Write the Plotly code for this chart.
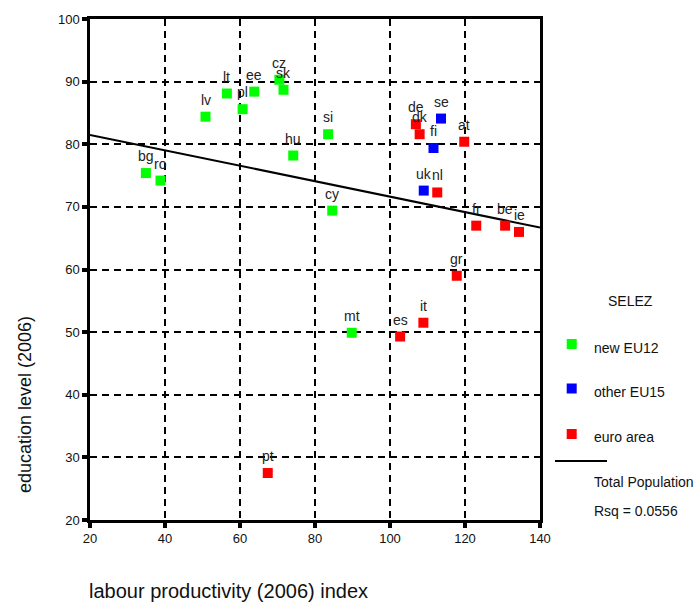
import plotly.graph_objects as go

# ---- data ----
new_eu12_codes = ["bg", "ro", "lv", "lt", "pl", "ee", "cz", "sk", "hu", "si", "cy", "mt"]
new_eu12_x = [34.9, 38.8, 50.8, 56.5, 60.7, 63.8, 70.5, 71.6, 74.2, 83.5, 84.6, 89.8]
new_eu12_y = [75.4, 74.2, 84.4, 88.1, 85.6, 88.4, 90.3, 88.7, 78.2, 81.6, 69.4, 49.9]

other_eu15_codes = ["se", "fi", "uk"]
other_eu15_x = [113.6, 111.6, 109.0]
other_eu15_y = [84.1, 79.4, 72.6]

euro_codes = ["de", "dk", "at", "nl", "fr", "be", "ie", "gr", "es", "it", "pt"]
euro_x = [106.9, 107.9, 119.8, 112.6, 123.0, 130.7, 134.4, 117.8, 102.7, 108.9, 67.4]
euro_y = [83.2, 81.6, 80.4, 72.3, 67.0, 67.0, 66.0, 59.0, 49.3, 51.5, 27.5]

trend_x = [20, 140]
trend_y = [81.5, 66.7]

x_ticks = [20, 40, 60, 80, 100, 120, 140]
y_ticks = [20, 30, 40, 50, 60, 70, 80, 90, 100]

legend_title = "SELEZ"
legend_labels = ["new EU12", "other EU15", "euro area"]
fit_label = "Total Population"
rsq_label = "Rsq = 0.0556"

colors = ["#00ff00", "#0000ff", "#ff0000"]

# ---- layout geometry (pixels) ----
W, H = 700, 605
ML, MR, MT, MB = 90, 160, 19, 85
PW = W - ML - MR
PH = H - MT - MB


def px(x):
    return (x - ML) / PW


def py(y):
    return (H - MB - y) / PH


FONT = "Liberation Sans, Arial, sans-serif"

fig = go.Figure()

groups = [
    (new_eu12_codes, new_eu12_x, new_eu12_y, colors[0], legend_labels[0]),
    (other_eu15_codes, other_eu15_x, other_eu15_y, colors[1], legend_labels[1]),
    (euro_codes, euro_x, euro_y, colors[2], legend_labels[2]),
]

fig.add_trace(go.Scatter(
    x=trend_x, y=trend_y, mode="lines",
    line=dict(color="black", width=2), showlegend=False, hoverinfo="skip",
))

annotations = []
for codes, xs, ys, col, name in groups:
    fig.add_trace(go.Scatter(
        x=xs, y=ys, mode="markers", name=name, text=codes,
        marker=dict(symbol="square", size=10, color=col, line=dict(width=0)),
        showlegend=False,
    ))
    for c, xv, yv in zip(codes, xs, ys):
        annotations.append(dict(
            x=xv, y=yv, xref="x", yref="y", text=c, showarrow=False,
            yshift=17, font=dict(family=FONT, size=14, color="#222222"),
        ))

# axis titles
annotations.append(dict(
    x=px(87), y=py(604), xref="paper", yref="paper", xanchor="left", yanchor="bottom",
    text="labour productivity (2006) index", showarrow=False,
    font=dict(family=FONT, size=20, color="#111111"),
))
annotations.append(dict(
    x=px(25), y=py(405), xref="paper", yref="paper", xanchor="center", yanchor="middle",
    text="education level (2006)", showarrow=False, textangle=-90,
    font=dict(family=FONT, size=18, color="#111111"),
))

# custom legend
annotations.append(dict(
    x=px(630), y=py(301), xref="paper", yref="paper", xanchor="center", yanchor="middle",
    text=legend_title, showarrow=False, font=dict(family=FONT, size=14, color="#111111"),
))
shapes = []
leg_marker_y = [344, 388.5, 434]
leg_text_y = [347.5, 392.3, 436.7]
for lab, col, my, ty in zip(legend_labels, colors, leg_marker_y, leg_text_y):
    shapes.append(dict(
        type="rect", xref="paper", yref="paper",
        x0=px(566.7), x1=px(576.7), y0=py(my + 5), y1=py(my - 5),
        fillcolor=col, line=dict(width=0),
    ))
    annotations.append(dict(
        x=px(592), y=py(ty), xref="paper", yref="paper", xanchor="left", yanchor="middle",
        text=lab, showarrow=False, font=dict(family=FONT, size=14, color="#111111"),
    ))
shapes.append(dict(
    type="line", xref="paper", yref="paper",
    x0=px(555), x1=px(607), y0=py(461), y1=py(461),
    line=dict(color="black", width=2),
))
annotations.append(dict(
    x=px(592), y=py(482), xref="paper", yref="paper", xanchor="left", yanchor="middle",
    text=fit_label, showarrow=False, font=dict(family=FONT, size=14, color="#111111"),
))
annotations.append(dict(
    x=px(592), y=py(511), xref="paper", yref="paper", xanchor="left", yanchor="middle",
    text=rsq_label, showarrow=False, font=dict(family=FONT, size=14, color="#111111"),
))

axis_common = dict(
    showline=True, linecolor="black", linewidth=2.5, mirror=True,
    showgrid=True, gridcolor="black", gridwidth=1.5, griddash="7px,5px",
    ticks="outside", ticklen=5, tickwidth=4, tickcolor="black",
    tickfont=dict(family=FONT, size=13, color="#111111"),
    zeroline=False, fixedrange=True,
)

fig.update_layout(
    width=W, height=H,
    margin=dict(l=ML, r=MR, t=MT, b=MB, autoexpand=False),
    paper_bgcolor="white", plot_bgcolor="white",
    showlegend=False,
    xaxis=dict(range=[20, 140], tickvals=x_ticks, ticktext=[str(v) for v in x_ticks], **axis_common),
    yaxis=dict(range=[20, 100], tickvals=y_ticks, ticktext=[str(v) for v in y_ticks], **axis_common),
    annotations=annotations,
    shapes=shapes,
    font=dict(family=FONT),
)

fig.write_html(
    "out.html",
    config={"displayModeBar": False},
    post_script="document.body.style.margin='0px';document.body.style.overflow='hidden';",
)
